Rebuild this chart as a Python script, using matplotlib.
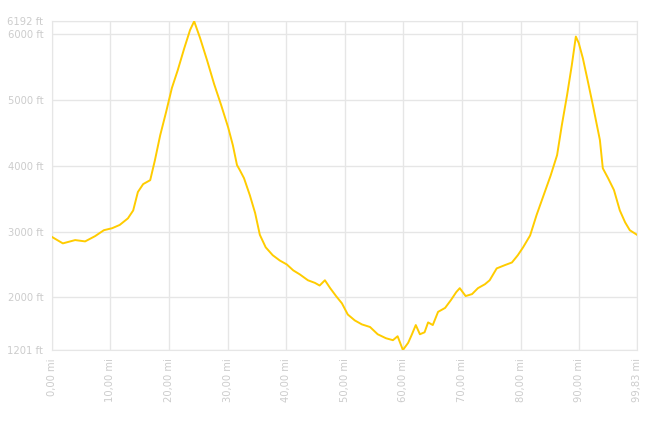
import matplotlib
matplotlib.use("Agg")
import matplotlib.pyplot as plt

# distance (mi) and elevation (ft)
miles = [0, 1.9, 4, 5.7, 7.4, 8.9, 10.3, 11.6, 13, 13.9, 14.7, 15.6, 16.8, 17.6,
         18.5, 19.5, 20.5, 21.5, 22.6, 23.6, 24.3, 25.3, 26.5, 27.7, 28.9, 30.1,
         30.9, 31.6, 32.1, 32.8, 33.8, 34.7, 35.5, 36.5, 37.7, 38.9, 40.1, 41.2,
         42.3, 43.7, 44.9, 45.7, 46.6, 47.5, 48.5, 49.5, 50.5, 51.7, 52.9, 54.3,
         55.6, 57.0, 58.2, 59.0, 59.9, 60.8, 61.4, 62.1, 62.8, 63.6, 64.2, 65.0,
         65.9, 67.1, 68.1, 69.0, 69.6, 70.6, 71.7, 72.7, 73.9, 74.7, 75.9, 77.3,
         78.5, 79.5, 80.4, 81.6, 82.7, 83.9, 85.1, 86.2, 87.0, 87.9, 88.7, 89.4,
         89.9, 90.6, 91.4, 92.3, 93.0, 93.5, 94.0, 94.9, 95.9, 96.9, 97.8, 98.6,
         99.83]
elev = [2920, 2820, 2870, 2850, 2930, 3020, 3050, 3100, 3200, 3320, 3600, 3720,
        3780, 4080, 4460, 4810, 5180, 5450, 5780, 6060, 6192, 5940, 5600, 5240,
        4920, 4580, 4310, 4010, 3930, 3810, 3550, 3280, 2950, 2760, 2640, 2560,
        2500, 2410, 2350, 2260, 2220, 2180, 2260, 2140, 2020, 1910, 1740, 1650,
        1590, 1550, 1440, 1380, 1350, 1410, 1201, 1310, 1430, 1580, 1440, 1470,
        1620, 1580, 1780, 1840, 1960, 2080, 2140, 2020, 2050, 2140, 2200, 2260,
        2440, 2490, 2530, 2640, 2760, 2940, 3250, 3550, 3850, 4160, 4610, 5070,
        5520, 5960, 5860, 5630, 5300, 4920, 4610, 4390, 3960, 3810, 3630, 3320,
        3140, 3020, 2950]

y_ticks = [1201, 2000, 3000, 4000, 5000, 6000, 6192]
y_labels = ["1201 ft", "2000 ft", "3000 ft", "4000 ft", "5000 ft", "6000 ft", "6192 ft"]
x_ticks = [0, 10, 20, 30, 40, 50, 60, 70, 80, 90, 99.83]
x_labels = ["0,00 mi", "10,00 mi", "20,00 mi", "30,00 mi", "40,00 mi", "50,00 mi",
            "60,00 mi", "70,00 mi", "80,00 mi", "90,00 mi", "99,83 mi"]

fig = plt.figure(figsize=(6.54, 4.36), dpi=100)
ax = fig.add_axes([51.7 / 654, 1 - 350 / 436, (637 - 51.7) / 654, (350 - 21.3) / 436])

ax.plot(miles, elev, color="#ffcc00", lw=1.4, zorder=3)

ax.set_xlim(0, 99.83)
ax.set_ylim(1201, 6192)
ax.set_xticks(x_ticks)
ax.set_xticklabels(x_labels, rotation=90)
ax.set_yticks(y_ticks)
ax.set_yticklabels(y_labels)
ax.tick_params(length=0, labelsize=7.2, colors="#cccccc", pad=6)
ax.grid(True, color="#e6e6e6", lw=1)
for s in ax.spines.values():
    s.set_color("#e6e6e6")

fig.savefig("out.png", dpi=100)
